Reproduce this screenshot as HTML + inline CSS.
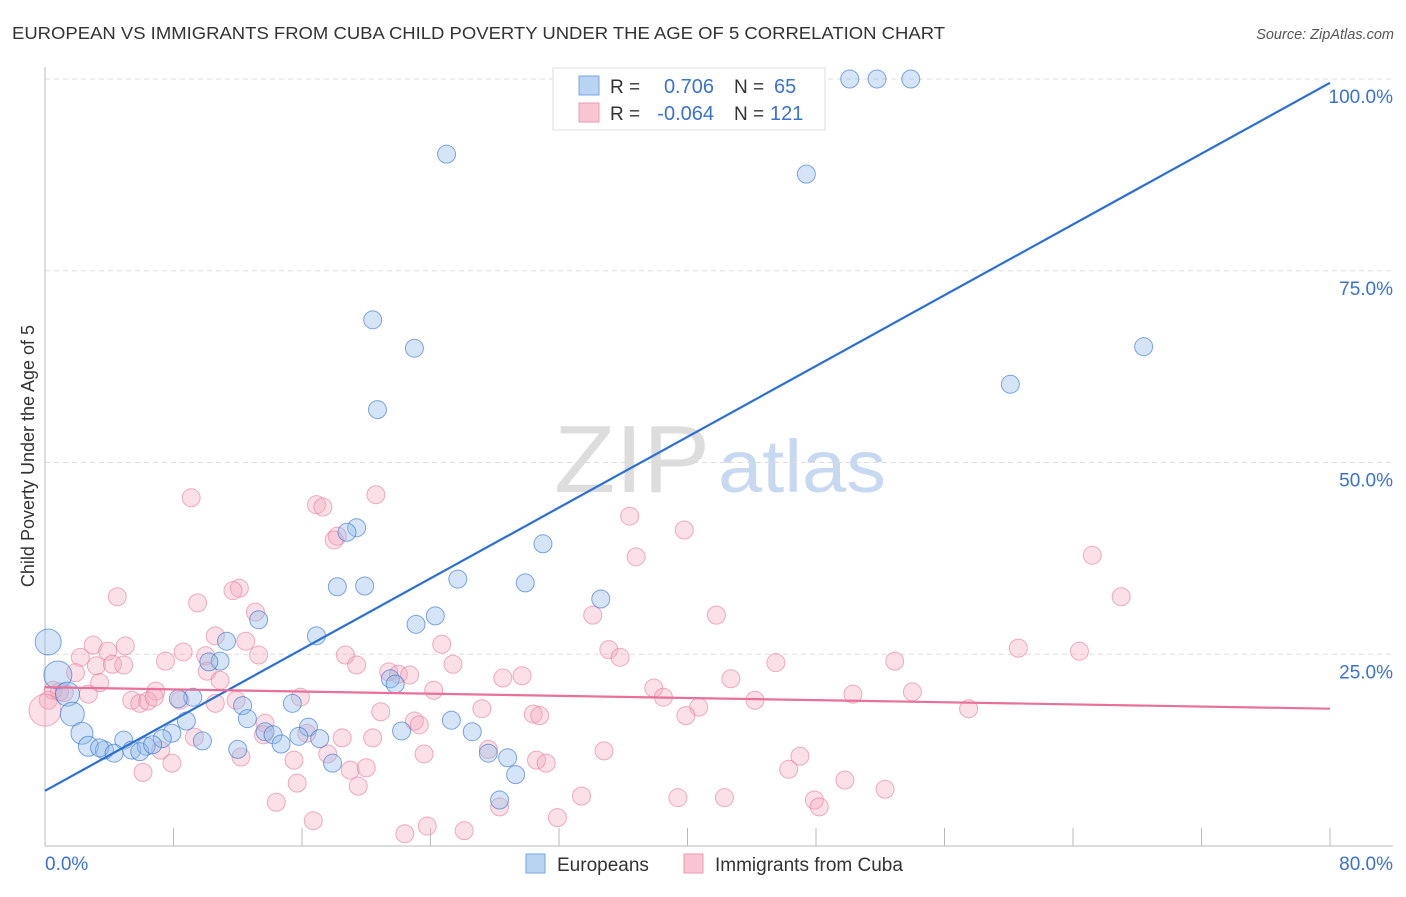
<!DOCTYPE html>
<html><head><meta charset="utf-8"><style>
body{margin:0;background:#fff;font-family:"Liberation Sans",sans-serif;}
svg text{font-family:"Liberation Sans",sans-serif;}
</style></head><body>
<svg id="c" width="1406" height="892">
<text x="12" y="39" font-size="17.5" fill="#333" textLength="933" lengthAdjust="spacingAndGlyphs">EUROPEAN VS IMMIGRANTS FROM CUBA CHILD POVERTY UNDER THE AGE OF 5 CORRELATION CHART</text>
<text x="1394" y="39" font-size="14.5" fill="#555" font-style="italic" text-anchor="end">Source: ZipAtlas.com</text>
<text x="34" y="456" font-size="18" fill="#333" text-anchor="middle" transform="rotate(-90 34 456)">Child Poverty Under the Age of 5</text>
<text x="554" y="492" font-size="96" fill="#ddd" font-family="Liberation Serif" textLength="156" lengthAdjust="spacingAndGlyphs">ZIP</text>
<text x="718" y="492" font-size="74" fill="#c7d9f0" textLength="168" lengthAdjust="spacingAndGlyphs">atlas</text>
<g id="grid"></g><g id="pts"></g><g id="lines"></g>
<g>
<rect x="553" y="68" width="272" height="62" fill="#fff" stroke="#ddd"/>
<rect x="579" y="76" width="20" height="19" fill="#b9d3f3" stroke="#7aa6e0"/>
<rect x="579" y="103" width="20" height="19" fill="#f8c5d3" stroke="#eb9ab1"/>
<text x="610" y="93" font-size="19" fill="#333">R =</text><text x="714" y="93" font-size="20" fill="#3a72d0" text-anchor="end">0.706</text>
<text x="734" y="93" font-size="19" fill="#333">N =</text><text x="774" y="93" font-size="20" fill="#3a72d0">65</text>
<text x="610" y="120" font-size="19" fill="#333">R =</text><text x="714" y="120" font-size="20" fill="#3a72d0" text-anchor="end">-0.064</text>
<text x="734" y="120" font-size="19" fill="#333">N =</text><text x="770" y="120" font-size="20" fill="#3a72d0">121</text>
</g>
<g>
<rect x="526" y="854" width="19" height="19" fill="#b9d3f3" stroke="#7aa6e0"/>
<text x="557" y="871" font-size="19" fill="#333">Europeans</text>
<rect x="684" y="854" width="19" height="19" fill="#f8c5d3" stroke="#eb9ab1"/>
<text x="715" y="871" font-size="19" fill="#333">Immigrants from Cuba</text>
</g>
</svg>
<script>
const blueX=[50.1,51.8,53.9,25.0,47.4,20.4,23.0,68.4,60.1,20.7,19.4,18.8,31.0,25.7,29.9,18.2,19.9,34.6,24.3,23.1,13.3,16.9,11.3,0.2,0.8,10.9,10.2,1.4,9.2,8.3,21.5,21.8,15.4,12.3,1.7,8.8,12.6,16.4,25.3,2.3,7.9,7.3,13.7,14.2,15.8,17.1,26.6,22.2,2.7,4.9,9.8,3.7,3.4,5.4,6.3,12.0,14.7,4.3,5.9,6.7,27.6,28.8,17.9,29.3,28.3];
const blueY=[100,100,100,90.2,87.6,68.6,64.9,65.1,60.2,56.9,41.5,40.9,39.4,34.8,34.3,33.8,33.9,32.2,30.0,28.9,29.5,27.4,26.7,26.6,22.3,24.1,24.0,19.8,19.4,19.2,21.8,21.1,18.6,18.3,17.2,16.3,16.6,15.5,16.4,14.7,14.7,14.0,14.9,14.5,14.3,14.0,14.9,15.0,13.0,13.8,13.7,12.5,12.8,12.5,13.0,12.6,13.3,12.1,12.3,13.2,12.1,11.5,10.8,9.3,6.0];
const blueSize=[9,9,9,9,9,9,9,9,9,9,9,9,9,9,9,9,9,9,9,9,9,9,9,13,14,9,9,12,9,9,9,9,9,9,12,9,9,9,9,11,9,9,9,9,9,9,9,9,10,9,9,9,9,9,9,9,9,9,9,9,9,9,9,9,9];
const pinkX=[9.1,20.6,16.9,17.3,36.4,39.8,18.2,18.0,36.8,65.2,67.0,12.1,11.7,4.5,9.5,13.1,34.1,41.8,10.6,12.5,24.7,3.0,5.0,3.9,8.6,13.3,10.0,35.1,35.8,60.6,64.4,2.2,7.5,18.7,52.9,45.5,3.2,4.2,4.9,25.4,19.4,10.1,1.9,21.4,22.0,22.7,29.7,28.5,42.7,10.9,3.4,0.5,0.9,0.2,1.2,6.9,2.7,24.2,37.9,38.5,50.3,54.0,15.9,8.4,10.6,11.9,5.4,5.9,6.4,6.8,44.2,0.0,57.5,27.2,30.4,30.8,40.7,39.9,20.9,23.0,23.3,13.7,13.6,9.3,16.3,18.5,20.4,27.6,34.8,17.6,7.2,12.2,15.5,23.6,30.6,31.2,47.0,7.9,19.0,20.0,46.3,6.1,15.7,19.5,49.8,52.3,33.4,39.4,42.3,47.9,14.4,28.3,48.2,31.9,16.7,23.8,26.1,22.4];
const pinkY=[45.4,45.8,44.5,44.2,43.0,41.2,40.4,39.9,37.7,37.9,32.5,33.6,33.3,32.5,31.7,30.5,30.1,30.1,27.4,26.7,26.3,26.2,26.1,25.4,25.3,24.9,24.8,25.6,24.6,25.8,25.4,24.6,24.1,24.9,24.1,23.9,23.5,23.7,23.6,23.7,23.6,22.8,22.6,22.7,22.4,22.3,22.2,21.9,21.8,21.6,21.3,20.3,20.1,19.0,20.0,20.2,19.8,20.3,20.6,19.4,19.8,20.1,19.4,19.0,18.6,19.0,19.0,18.6,18.9,19.4,19.0,17.7,17.9,17.9,17.2,17.0,18.1,17.0,17.5,16.3,15.8,16.0,14.5,14.2,14.7,14.1,14.1,12.6,12.4,12.0,12.5,11.6,11.2,12.0,11.2,10.8,11.7,10.8,9.9,10.2,10.0,9.6,8.2,7.8,8.6,7.4,6.5,6.3,6.3,6.0,5.7,5.1,5.1,3.7,3.3,2.6,2.0,1.6];
const blueTrend=[7.2,99.5];
const pinkTrend=[20.7,17.9];
const yTicks=[25,50,75,100];
const yTickLabels=["25.0%","50.0%","75.0%","100.0%"];
const xTicks=[0,8,16,24,32,40,48,56,64,72,80];
const xLabels=["0.0%","80.0%"];

const NS="http://www.w3.org/2000/svg";
const X=v=>45+v/80*1285, Y=v=>846-v/100*767;
function mk(t,a,p){const e=document.createElementNS(NS,t);for(const k in a)e.setAttribute(k,a[k]);p.appendChild(e);return e;}
const grid=document.getElementById('grid'),pts=document.getElementById('pts'),lines=document.getElementById('lines');
yTicks.forEach((v,i)=>{
 const l=mk('line',{x1:45,x2:1393,y1:Y(v),y2:Y(v),stroke:'#ddd','stroke-dasharray':'5,4'},grid);
 
 
 const t=mk('text',{x:1393,y:Y(v)+24,'font-size':19,fill:'#3a72d0','text-anchor':'end'},grid);t.textContent=yTickLabels[i];
 
 
});
const ax=mk('line',{x1:45,x2:45,y1:67,y2:846,stroke:'#bbb'},grid);


const bx=mk('line',{x1:45,x2:1393,y1:846,y2:846,stroke:'#bbb'},grid);


xTicks.forEach(v=>{const t=mk('line',{x1:X(v),x2:X(v),y1:828,y2:846,stroke:'#bbb'},grid);
 
 });
const xl0=mk('text',{x:45,y:870,'font-size':19,fill:'#3a72d0'},grid);xl0.textContent=xLabels[0];


const xl1=mk('text',{x:1393,y:870,'font-size':19,fill:'#3a72d0','text-anchor':'end'},grid);xl1.textContent=xLabels[1];


pinkX.forEach((v,i)=>{const c=mk('circle',{cx:X(v),cy:Y(pinkY[i]),r:(i==71?16:9),fill:'rgba(244,167,190,0.35)',stroke:'rgba(232,120,155,0.6)','stroke-width':1},pts);
 
 });
blueX.forEach((v,i)=>{const c=mk('circle',{cx:X(v),cy:Y(blueY[i]),r:blueSize[i],fill:'rgba(150,190,236,0.4)',stroke:'rgba(60,120,210,0.65)','stroke-width':1},pts);
 
 });
const tb=mk('line',{x1:X(0),y1:Y(blueTrend[0]),x2:X(80),y2:Y(blueTrend[1]),stroke:'#2a6fd6','stroke-width':2.2},lines);


const tp=mk('line',{x1:X(0),y1:Y(pinkTrend[0]),x2:X(80),y2:Y(pinkTrend[1]),stroke:'#e8709a','stroke-width':2.2},lines);


</script>
</body></html>
